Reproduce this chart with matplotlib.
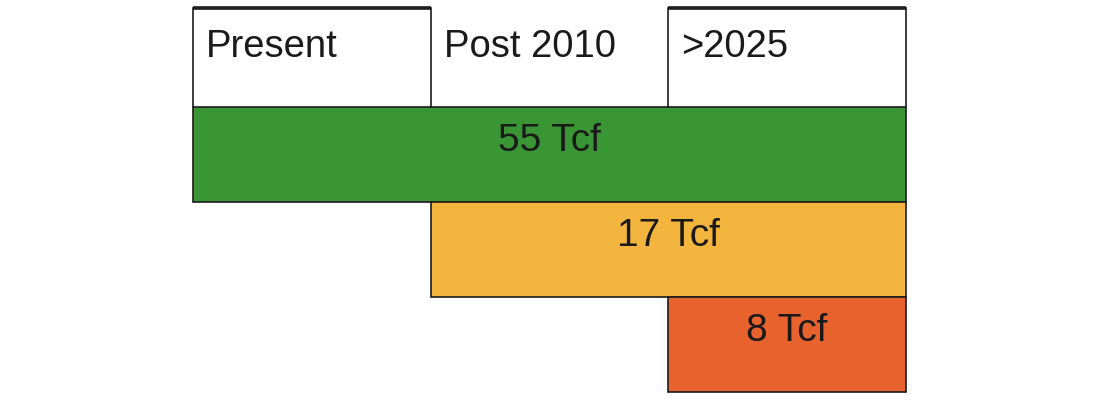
import matplotlib.pyplot as plt

plt.rcParams['font.family'] = ['Liberation Sans', 'DejaVu Sans']

# header periods and the gas volume that becomes available from each
periods = ["Present", "Post 2010", ">2025"]
volumes = [55, 17, 8]          # Tcf
start_col = [0, 1, 2]          # column where each bar starts
bar_colors = ["#3a9634", "#f4b53e", "#e8622e"]
outlined_top = [True, False, True]

n_cols = len(periods)
edge = "#1c1c1c"
head_top = -0.04               # header row is a bit taller than the bars

fig = plt.figure(figsize=(11, 4), dpi=100)
fig.patch.set_facecolor("white")
ax = fig.add_axes([193 / 1100, 8 / 400, 713 / 1100, 384 / 400])
ax.set_xlim(0, n_cols)
ax.set_ylim(len(volumes) + 1, head_top)
ax.axis("off")

# header cells
for i, label in enumerate(periods):
    ax.plot([i, i], [head_top, 1], color=edge, lw=1.2, clip_on=False)
    if outlined_top[i]:
        ax.plot([i, i + 1], [head_top, head_top], color=edge, lw=2.6,
                solid_capstyle="butt", clip_on=False)
    ax.text(i + 0.055, 0.18, label, ha="left", va="top", fontsize=27.5,
            color="#1a1a1a")
ax.plot([n_cols, n_cols], [head_top, 1], color=edge, lw=1.2, clip_on=False)

# volume bars
for row, (vol, s, c) in enumerate(zip(volumes, start_col, bar_colors)):
    y = row + 1.5
    ax.barh(y, n_cols - s, left=s, height=1, color=c, edgecolor=edge,
            linewidth=1.2, clip_on=False)
    ax.text((s + n_cols) / 2, row + 1.17, f"{vol} Tcf", ha="center",
            va="top", fontsize=28, color="#1a1a1a")

fig.savefig("out.png", dpi=100, facecolor="white")
